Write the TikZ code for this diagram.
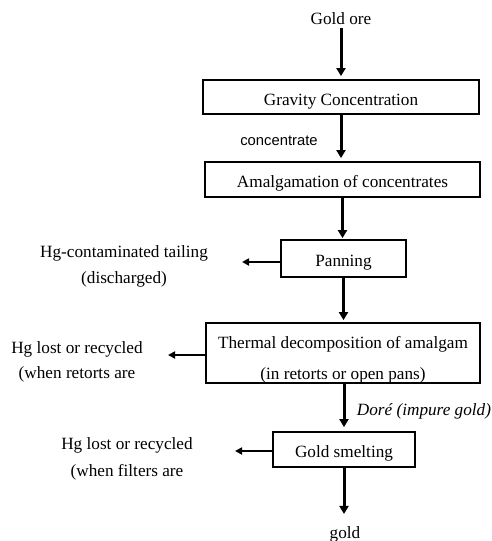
\documentclass[tikz,border=0pt]{standalone}
\usepackage{fontspec}
\setmainfont{Liberation Serif}
\newfontfamily\labelsans{Liberation Sans}
\usepackage{tikz}
\usetikzlibrary{arrows.meta,positioning}

\begin{document}
\begin{tikzpicture}[x=1pt,y=-1pt,
    stage/.style={draw,line width=1.8pt,inner sep=0pt,
        text height=16pt,text depth=0pt,font=\fontsize{17.2}{31}\selectfont},
    txt/.style={inner sep=1pt,align=center,font=\fontsize{17.2}{26}\selectfont},
    flow/.style={line width=3pt,-{Triangle[length=8pt,width=9pt]}},
    side/.style={line width=1.8pt,-{Triangle[length=7pt,width=7pt]}}]

% Frame
\useasboundingbox (0,0) rectangle (492,541);

% Main line
\node[txt] (ore) at (341,19) {Gold ore};
\node[stage,minimum width=276pt,minimum height=34pt] (grav) at (341,97) {Gravity Concentration};
\node[txt,font=\labelsans\fontsize{14.8}{18}\selectfont] (conc) at (279,141) {concentrate};
\node[stage,minimum width=275pt,minimum height=35pt] (amal) at (342.5,179.5) {Amalgamation of concentrates};
\node[stage,minimum width=125pt,minimum height=37pt] (pan) at (343.5,258.5) {Panning};
\node[stage,minimum width=274pt,minimum height=60pt] (therm) at (343,353) {};
\node[txt,font=\fontsize{17.2}{31}\selectfont] (thermtxt) at (343,360)
    {Thermal decomposition of amalgam\\(in retorts or open pans)};
\node[txt,font=\itshape\fontsize{17.2}{20}\selectfont] (dore) at (424,411) {Doré (impure gold)};
\node[stage,minimum width=142pt,minimum height=35pt] (smelt) at (344,449.5) {Gold smelting};
\node[txt] (gold) at (345,534) {gold};

% Losses
\node[txt] (tail) at (124,266) {Hg-contaminated tailing\\(discharged)};
\node[txt,font=\fontsize{17.2}{25}\selectfont] (lost1) at (77,362) {Hg lost or recycled\\(when retorts are};
\node[txt,font=\fontsize{17.2}{27}\selectfont] (lost2) at (127,459) {Hg lost or recycled\\(when filters are};
\coordinate (tailend) at (242,262);
\coordinate (lost1end) at (168,355);
\coordinate (lost2end) at (235,451);

% Arrows
\draw[flow,shorten <=2pt,shorten >=3pt] (ore) -- (grav);
\draw[flow,shorten >=3pt] (grav.south) -- (grav.south |- amal.north);
\draw[flow,shorten >=1pt] (amal.south) -- (amal.south |- pan.north);
\draw[flow,shorten >=2pt] (pan.south) -- (pan.south |- therm.north);
\draw[flow,shorten >=4pt] (smelt.north |- therm.south) -- (smelt.north);
\draw[flow,shorten >=11pt] (smelt.south) -- (smelt.south |- gold.north);

\draw[side] (pan.west |- tailend) -- (tailend);
\draw[side] (therm.west |- lost1end) -- (lost1end);
\draw[side] (smelt.west |- lost2end) -- (lost2end);

\end{tikzpicture}
\end{document}
